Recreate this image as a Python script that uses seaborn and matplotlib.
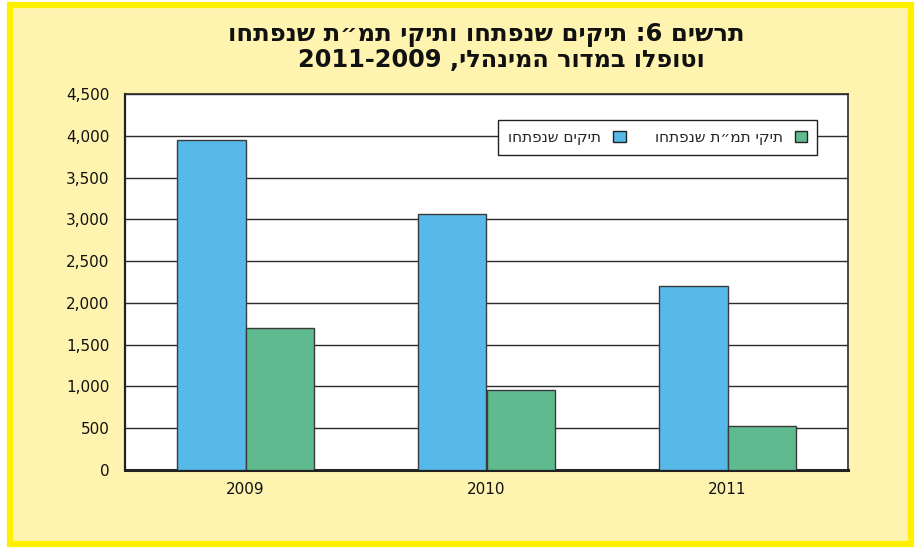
"""
Chart 6 - cases opened, 2009-2011
"""

import re

import numpy as np
import pandas as pd

import matplotlib
matplotlib.use("Agg")
import matplotlib.pyplot as plt
from matplotlib.patches import Rectangle
from matplotlib.ticker import FuncFormatter, FixedLocator
import seaborn as sns

##########################################################
# Data
##########################################################

years = ["2009", "2010", "2011"]

series_names = [
    "תיקים שנפתחו",
    "תיקי תמ״ת שנפתחו"
]

opened = [3950, 3060, 2200]

opened_tmt = [1700, 960, 530]

title_lines = [
    "תרשים 6: תיקים שנפתחו ותיקי תמ״ת שנפתחו",
    "וטופלו במדור המינהלי, 2009-2011"
]

y_ticks = [0, 500, 1000, 1500, 2000, 2500, 3000, 3500, 4000, 4500]

colors = ["#56b9ea", "#5fbb8f"]


def rtl(text):
    # matplotlib has no bidi, so flip the text and put digit runs back
    flipped = text[::-1]
    return re.sub(r"[0-9]+", lambda m: m.group(0)[::-1], flipped)


df = pd.DataFrame({
    "year": years * 2,
    "series": [series_names[0]] * 3 + [series_names[1]] * 3,
    "value": opened + opened_tmt
})

##########################################################
# Figure
##########################################################

sns.set_style("white")
plt.rcParams["font.family"] = ["DejaVu Sans"]

fig = plt.figure(figsize=(9.18, 5.51), dpi=100)
fig.patch.set_facecolor("white")

frame = Rectangle(
    (9.5 / 918, 7.5 / 551),
    901 / 918,
    539 / 551,
    transform=fig.transFigure,
    facecolor="#fff3b0",
    edgecolor="#fff000",
    linewidth=4.5,
    zorder=-10
)
fig.patches.append(frame)

ax = fig.add_axes([125 / 918, 1 - 470 / 551, 723 / 918, 376 / 551])
ax.set_facecolor("white")
ax.set_zorder(2)

sns.barplot(
    data=df,
    x="year",
    y="value",
    hue="series",
    hue_order=series_names,
    palette=colors,
    width=0.572,
    edgecolor="#3a3a3a",
    linewidth=1,
    saturation=1,
    ax=ax,
    zorder=3
)

##########################################################
# Axes
##########################################################

ax.set_xlim(-0.5, 2.5)
ax.set_ylim(0, 4500)

ax.set_yticks(y_ticks)
ax.yaxis.set_major_formatter(FuncFormatter(lambda v, p: f"{int(v):,}"))
ax.yaxis.grid(True, color="#2a2a2a", linewidth=1, zorder=0)
ax.set_axisbelow(True)

ax.xaxis.set_major_locator(FixedLocator([-0.5, 0.5, 1.5, 2.5]))
ax.xaxis.set_minor_locator(FixedLocator([0, 1, 2]))
ax.set_xticklabels([], minor=False)
ax.set_xticklabels(years, minor=True)

ax.tick_params(axis="x", which="major", direction="inout", length=18,
               width=1, color="#222222")
ax.tick_params(axis="x", which="minor", length=0, pad=9,
               labelsize=11, labelcolor="#111111")
ax.tick_params(axis="y", direction="out", length=8, width=1,
               color="#222222", labelsize=11, labelcolor="#111111", pad=3)

ax.set_xlabel("")
ax.set_ylabel("")

for side in ["top", "right"]:
    ax.spines[side].set_color("#2a2a2a")
    ax.spines[side].set_linewidth(1.2)

ax.spines["left"].set_color("#222222")
ax.spines["left"].set_linewidth(1.6)
ax.spines["bottom"].set_color("#222222")
ax.spines["bottom"].set_linewidth(2.2)

##########################################################
# Legend
##########################################################

handles, labels = ax.get_legend_handles_labels()

for h in handles:
    h.set_edgecolor("#222222")
    h.set_linewidth(1)

leg = ax.legend(
    handles,
    [rtl(l) for l in labels],
    ncol=2,
    loc="upper right",
    bbox_to_anchor=(1 - 31 / 723, 1 - 26 / 376),
    borderaxespad=0,
    markerfirst=False,
    frameon=True,
    fancybox=False,
    handlelength=0.8,
    handleheight=0.8,
    handletextpad=0.8,
    columnspacing=1.9,
    borderpad=0.65,
    fontsize=11
)

leg.get_frame().set_edgecolor("#222222")
leg.get_frame().set_linewidth(1)
leg.get_frame().set_facecolor("white")
leg.get_frame().set_alpha(1)
leg.set_zorder(5)

##########################################################
# Title
##########################################################

title_x = (125 + 723 / 2) / 918

fig.text(title_x, 1 - 35 / 551, rtl(title_lines[0]), ha="center",
         va="center", fontsize=17.5, fontweight="bold", color="#111111")

fig.text(501 / 918, 1 - 60 / 551, rtl(title_lines[1]), ha="center",
         va="center", fontsize=17.3, fontweight="bold", color="#111111")

plt.savefig("out.png", dpi=100)

plt.close()
